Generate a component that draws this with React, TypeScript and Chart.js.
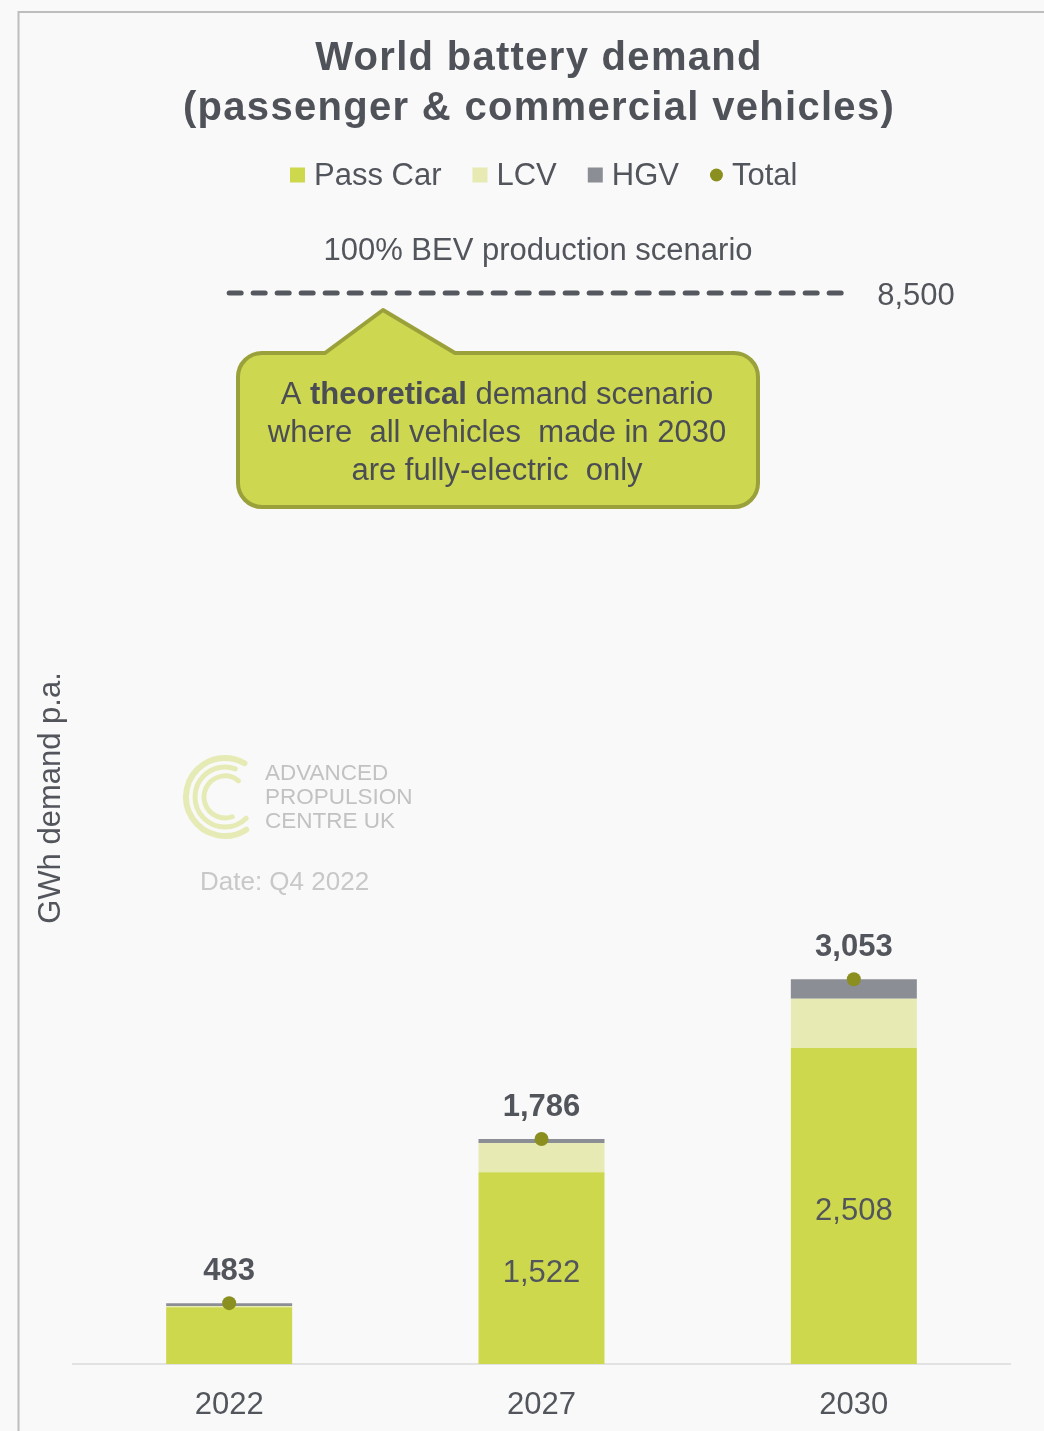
import React, { useEffect, useRef } from "react";
import { Chart, registerables } from "chart.js";

Chart.register(...registerables);

// ---- data ----
const years = ["2022", "2027", "2030"];
const passCar = [450, 1522, 2508];
const lcv = [10, 232, 390];
const hgv = [23, 32, 155];
const totals = [483, 1786, 3053];
const bevScenario = 8500;
const yMax = 9000;

const seriesNames = ["Pass Car", "LCV", "HGV", "Total"];
const seriesColors = ["#cdd84d", "#e7eab3", "#8c8e95", "#8a8f1f"];

const titleLines = ["World battery demand", "(passenger & commercial vehicles)"];
const yTitle = "GWh demand p.a.";
const scenarioLabel = "100% BEV production scenario";
const scenarioValueLabel = "8,500";
const calloutLines: { t: string; b?: boolean }[][] = [
  [{ t: "A " }, { t: "theoretical", b: true }, { t: " demand scenario" }],
  [{ t: "where  all vehicles  made in 2030" }],
  [{ t: "are fully-electric  only" }],
];
const logoLines = ["ADVANCED", "PROPULSION", "CENTRE UK"];
const dateLabel = "Date: Q4 2022";

const FONT = "'Liberation Sans', Arial, sans-serif";
const TEXT = "#52555b";

const fmt = (v: number) => v.toLocaleString("en-US");

const drawPlugin = {
  id: "decor",
  beforeDraw(chart: any) {
    const ctx = chart.ctx as CanvasRenderingContext2D;
    const W = chart.width;
    const H = chart.height;
    ctx.save();
    ctx.fillStyle = "#f9f9f9";
    ctx.fillRect(0, 0, W, H);
    // frame
    ctx.strokeStyle = "#bdbdbd";
    ctx.lineWidth = 2;
    ctx.beginPath();
    ctx.moveTo(W, 12);
    ctx.lineTo(18.5, 12);
    ctx.lineTo(18.5, H);
    ctx.stroke();

    // logo watermark
    const cx = 225, cy = 797;
    ctx.strokeStyle = "#e6ebb6";
    ctx.lineCap = "round";
    ctx.lineWidth = 6;
    const d = Math.PI / 180;
    ctx.beginPath(); ctx.arc(cx, cy, 39, 57 * d, 300 * d); ctx.stroke();
    ctx.lineWidth = 5;
    ctx.beginPath(); ctx.arc(cx, cy, 30, 45 * d, 290 * d); ctx.stroke();
    ctx.beginPath(); ctx.arc(cx, cy, 21, 70 * d, 310 * d); ctx.stroke();
    ctx.lineCap = "butt";
    ctx.fillStyle = "#c2c2c2";
    ctx.font = `22.5px ${FONT}`;
    ctx.textAlign = "left";
    ctx.textBaseline = "middle";
    logoLines.forEach((l, i) => ctx.fillText(l, 265, 774 + i * 24));
    ctx.fillStyle = "#c8c8c8";
    ctx.font = `26px ${FONT}`;
    ctx.fillText(dateLabel, 200, 883);
    ctx.restore();
  },
  afterDraw(chart: any) {
    const ctx = chart.ctx as CanvasRenderingContext2D;
    const xs = chart.scales.x;
    const ys = chart.scales.y;
    ctx.save();
    // title
    ctx.fillStyle = "#4f5258";
    ctx.textAlign = "center";
    ctx.textBaseline = "middle";
    ctx.font = `bold 40px ${FONT}`;
    (ctx as any).letterSpacing = "1.3px";
    titleLines.forEach((l, i) => ctx.fillText(l, 539, 59 + i * 50));
    (ctx as any).letterSpacing = "0px";

    // legend
    ctx.font = `31px ${FONT}`;
    ctx.textAlign = "left";
    const ly = 175;
    let lx = 290;
    seriesNames.forEach((name, i) => {
      ctx.fillStyle = seriesColors[i];
      if (i === 3) {
        ctx.beginPath();
        ctx.arc(lx + 6.5, ly, 6.5, 0, Math.PI * 2);
        ctx.fill();
        lx += 13;
      } else {
        ctx.fillRect(lx, ly - 7.5, 15, 15);
        lx += 15;
      }
      lx += 9;
      ctx.fillStyle = TEXT;
      ctx.fillText(name, lx, ly + 1);
      lx += ctx.measureText(name).width + 31;
    });

    // y title
    ctx.save();
    ctx.translate(51, 798);
    ctx.rotate(-Math.PI / 2);
    ctx.textAlign = "center";
    ctx.fillStyle = TEXT;
    ctx.font = `31px ${FONT}`;
    ctx.fillText(yTitle, 0, 0);
    ctx.restore();

    // scenario line
    const yy = ys.getPixelForValue(bevScenario);
    ctx.strokeStyle = "#55585e";
    ctx.lineWidth = 5;
    ctx.lineCap = "round";
    ctx.setLineDash([12, 12]);
    ctx.beginPath();
    ctx.moveTo(xs.getPixelForValue(0) - 0, yy);
    ctx.lineTo(xs.getPixelForValue(2) - 10, yy);
    ctx.stroke();
    ctx.setLineDash([]);
    ctx.lineCap = "butt";
    ctx.fillStyle = TEXT;
    ctx.textAlign = "center";
    ctx.font = `31px ${FONT}`;
    ctx.fillText(scenarioLabel, 538, 251);
    ctx.fillText(scenarioValueLabel, 916, yy + 3);

    // callout
    const L = 238, R = 758, T = 353, B = 507, r = 24;
    ctx.beginPath();
    ctx.moveTo(L + r, T);
    ctx.lineTo(325, T);
    ctx.lineTo(383, 310);
    ctx.lineTo(455, T);
    ctx.lineTo(R - r, T);
    ctx.arcTo(R, T, R, T + r, r);
    ctx.lineTo(R, B - r);
    ctx.arcTo(R, B, R - r, B, r);
    ctx.lineTo(L + r, B);
    ctx.arcTo(L, B, L, B - r, r);
    ctx.lineTo(L, T + r);
    ctx.arcTo(L, T, L + r, T, r);
    ctx.closePath();
    ctx.fillStyle = "#cdd74f";
    ctx.fill();
    ctx.strokeStyle = "#9ba13a";
    ctx.lineWidth = 4;
    ctx.lineJoin = "round";
    ctx.stroke();

    ctx.fillStyle = "#4a4d54";
    ctx.textAlign = "left";
    calloutLines.forEach((parts, i) => {
      let w = 0;
      parts.forEach((p) => {
        ctx.font = `${p.b ? "bold " : ""}31px ${FONT}`;
        w += ctx.measureText(p.t).width;
      });
      let x = 497 - w / 2;
      parts.forEach((p) => {
        ctx.font = `${p.b ? "bold " : ""}31px ${FONT}`;
        ctx.fillText(p.t, x, 395 + i * 38);
        x += ctx.measureText(p.t).width;
      });
    });
    ctx.restore();
  },
  afterDatasetsDraw(chart: any) {
    const ctx = chart.ctx as CanvasRenderingContext2D;
    const passMeta = chart.getDatasetMeta(1);
    const totalMeta = chart.getDatasetMeta(0);
    ctx.save();
    ctx.fillStyle = TEXT;
    ctx.textAlign = "center";
    ctx.textBaseline = "middle";
    passCar.forEach((v, i) => {
      const el = passMeta.data[i];
      if (el.base - el.y > 80) {
        ctx.font = `31px ${FONT}`;
        ctx.fillText(fmt(v), el.x, (el.y + el.base) / 2 + 5);
      }
    });
    totals.forEach((v, i) => {
      const el = totalMeta.data[i];
      ctx.font = `bold 31px ${FONT}`;
      ctx.fillText(fmt(v), el.x, el.y - 32);
    });
    ctx.restore();
  },
};

export default function App() {
  const ref = useRef<HTMLCanvasElement>(null);
  useEffect(() => {
    if (!ref.current) return;
    const barCommon = {
      stack: "bars",
      order: 1,
      categoryPercentage: 1,
      barPercentage: 0.4034,
      borderWidth: 0,
    };
    const chart = new Chart(ref.current, {
      type: "bar",
      data: {
        labels: years,
        datasets: [
          {
            type: "line",
            label: seriesNames[3],
            data: totals,
            stack: "total",
            order: 0,
            showLine: false,
            pointRadius: 7,
            pointBackgroundColor: seriesColors[3],
            pointBorderWidth: 0,
            backgroundColor: seriesColors[3],
          } as any,
          { ...barCommon, label: seriesNames[0], data: passCar, backgroundColor: seriesColors[0] },
          { ...barCommon, label: seriesNames[1], data: lcv, backgroundColor: seriesColors[1] },
          { ...barCommon, label: seriesNames[2], data: hgv, backgroundColor: seriesColors[2] },
        ],
      },
      options: {
        animation: false,
        responsive: false,
        maintainAspectRatio: false,
        layout: { padding: { left: 73, right: 34, top: 230, bottom: 7 } },
        plugins: {
          legend: { display: false },
          title: { display: false },
          tooltip: { enabled: false },
        },
        scales: {
          x: {
            stacked: true,
            grid: { display: false, drawTicks: false },
            border: { display: true, color: "#e2e2e2", width: 2 },
            ticks: { color: TEXT, font: { family: FONT, size: 31 }, padding: 23 },
            afterFit: (s: any) => {
              s.height = 60;
            },
          },
          y: { stacked: true, display: false, min: 0, max: yMax },
        },
      },
      plugins: [drawPlugin],
    });
    return () => chart.destroy();
  }, []);
  return (
    <div style={{ position: "fixed", left: 0, top: 0, width: 1044, height: 1431, background: "#f9f9f9" }}>
      <canvas ref={ref} width={1044} height={1431} style={{ display: "block" }} />
    </div>
  );
}
